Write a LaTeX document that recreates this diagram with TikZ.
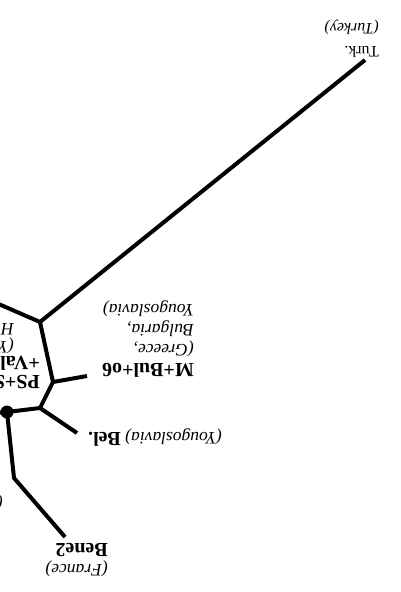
\documentclass[tikz,border=0pt]{standalone}
\usepackage{fontspec}
\setmainfont{Liberation Serif}
\usetikzlibrary{positioning}
\tikzset{
  branch/.style={line width=4pt, line join=round},
  taxon/.style={rotate=180, inner sep=0pt, align=left, font=\fontsize{17.5}{19.7}\selectfont},
  hub/.style={circle, fill=black, minimum size=13pt, inner sep=0pt}
}
\newcommand{\taxname}[1]{{\bfseries\fontsize{20}{19.7}\selectfont #1}}
\newcommand{\placename}[1]{{\itshape #1}}

\begin{document}
\begin{tikzpicture}[x=1pt, y=-1pt]
\useasboundingbox (0,0) rectangle (400,592);
\clip (0,0) rectangle (400,592);
% inner vertices
\coordinate (a) at (40,322);
\coordinate (b) at (53,382);
\coordinate (c) at (40,408);
\node[hub] (d) at (7,412) {};
\coordinate (e) at (14,478);
% leaves and cut ends
\coordinate (turk) at (365,60);
\coordinate (mbul) at (87,376);
\coordinate (bel) at (77,433);
\coordinate (bene) at (65,537);
\coordinate (outa) at (-6,302);
\coordinate (outd) at (-6,413);
% branches
\draw[branch] (turk) -- (a) -- (outa);
\draw[branch] (a) -- (b) -- (mbul);
\draw[branch] (b) -- (c) -- (bel);
\draw[branch] (c) -- (d.center) -- (outd);
\draw[branch] (d.center) -- (e) -- (bene);
% labels (upside down)
\node[taxon, anchor=north west, font=\fontsize{16}{23}\selectfont] (turklbl) at (379,58) {Turk.\\\placename{(Turkey)}};
\node[taxon, anchor=north west] (mbullbl) at (194,378) {\taxname{M+Bul+o6}\\\placename{(Greece,}\\\placename{Bulgaria,}\\\placename{Yougoslavia)}};
\node[taxon, anchor=base east] (bellbl) at (88,432) {\placename{(Yougoslavia)} \taxname{Bel.}};
\node[taxon, anchor=north west, font=\fontsize{17.5}{21}\selectfont] (benelbl) at (108,577) {\placename{(France)}\\\taxname{Bene2}};
\node[taxon, anchor=north west, font=\fontsize{20}{19}\selectfont] (pslbl) at (40,389) {\taxname{PS+S}\\\taxname{+Val}};
\node[taxon, anchor=north west, font=\fontsize{17.5}{18}\selectfont] (pslbl2) at (14,354) {\placename{(Y}\\\placename{H}};
\node[taxon, font=\itshape\fontsize{17.5}{19.7}\selectfont] (cutlbl) at (0,503) {(};
\end{tikzpicture}
\end{document}
